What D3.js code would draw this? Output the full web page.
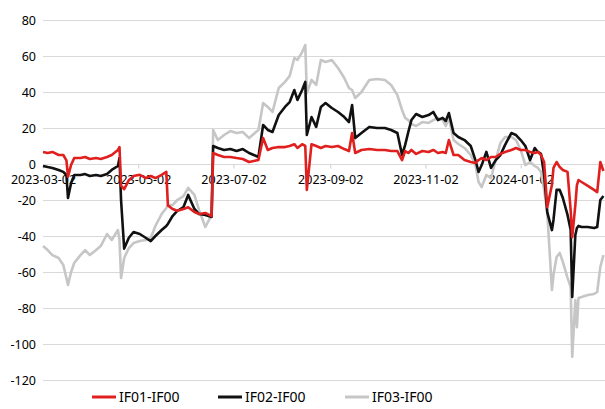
<!DOCTYPE html>
<html>
<head>
<meta charset="utf-8">
<script src="https://cdn.jsdelivr.net/npm/d3@7"></script>
<style>
    body { margin: 0; background: #fff; }
    svg text { font-family: "Noto Sans", "Open Sans", sans-serif; fill: #000; }
    .grid line { stroke: #d9d9d9; stroke-width: 1; }
</style>
</head>
<body>
<svg id="chart" width="605" height="409"></svg>
<script>
// dates shared by all three spreads
var dates = [
    "2023-03-02", "2023-03-05", "2023-03-08", "2023-03-12", "2023-03-15", "2023-03-17", "2023-03-18", "2023-03-20",
    "2023-03-22", "2023-03-26", "2023-03-29", "2023-04-01", "2023-04-05", "2023-04-08", "2023-04-12", "2023-04-15",
    "2023-04-19", "2023-04-20", "2023-04-21", "2023-04-23", "2023-04-26", "2023-04-29", "2023-05-03", "2023-05-07",
    "2023-05-10", "2023-05-13", "2023-05-17", "2023-05-20", "2023-05-21", "2023-05-24", "2023-05-27", "2023-05-31",
    "2023-06-03", "2023-06-07", "2023-06-10", "2023-06-14", "2023-06-18", "2023-06-19", "2023-06-22", "2023-06-26",
    "2023-06-30", "2023-07-04", "2023-07-08", "2023-07-12", "2023-07-15", "2023-07-18", "2023-07-21", "2023-07-24",
    "2023-07-27", "2023-07-31", "2023-08-04", "2023-08-07", "2023-08-10", "2023-08-12", "2023-08-15", "2023-08-17",
    "2023-08-18", "2023-08-21", "2023-08-24", "2023-08-27", "2023-08-30", "2023-09-03", "2023-09-07", "2023-09-11",
    "2023-09-14", "2023-09-16", "2023-09-18", "2023-09-22", "2023-09-27", "2023-10-02", "2023-10-07", "2023-10-11",
    "2023-10-15", "2023-10-18", "2023-10-20", "2023-10-22", "2023-10-24", "2023-10-27", "2023-10-31", "2023-11-04",
    "2023-11-07", "2023-11-10", "2023-11-13", "2023-11-15", "2023-11-17", "2023-11-20", "2023-11-23", "2023-11-27",
    "2023-12-01", "2023-12-04", "2023-12-06", "2023-12-08", "2023-12-11", "2023-12-14", "2023-12-17", "2023-12-20",
    "2023-12-23", "2023-12-27", "2023-12-30", "2024-01-02", "2024-01-05", "2024-01-08", "2024-01-11", "2024-01-13",
    "2024-01-15", "2024-01-17", "2024-01-19", "2024-01-22", "2024-01-23", "2024-01-25", "2024-01-27", "2024-01-29",
    "2024-02-01", "2024-02-03", "2024-02-04", "2024-02-06", "2024-02-07", "2024-02-08", "2024-02-10", "2024-02-14",
    "2024-02-18", "2024-02-20", "2024-02-22", "2024-02-24"
];

var if01 = [
    6.7, 6.1, 6.7, 5, 5, 2, -7, -0.5, 3.3, 3.3, 3.9, 2.8, 3.3, 2.8, 3.9, 5,
    7.8, 9.4, -12, -14, -9, -6.7, -6, -7.8, -6.7, -7.8, -6, -4.4, -23, -25, -26, -25,
    -24, -26.7, -27.8, -27.2, -29, 6.1, 5, 3.9, 3.9, 3.3, 2.8, 1.1, 1.7, 2.2, 14.4, 7.8,
    8.9, 9.4, 9.4, 10, 11, 8.9, 11, 10, -14.4, 11, 10, 8.9, 10, 9.4, 10, 8.3,
    7.2, 17.2, 6.1, 7.8, 8.3, 7.8, 7.8, 7.2, 7.2, 2.2, 7.2, 6.1, 7.8, 5.6, 7.2, 6.7,
    7.8, 6.1, 6.7, 6.1, 13.3, 5, 5, 2.2, 1.1, 0.6, 2.2, 3.3, 2.2, 3.9, 3.9, 5.6,
    6.7, 7.8, 8.9, 7.8, 7.8, 6.7, 6.1, 6.7, 5, 1.1, -24, -11.7, -2.2, 1.1, -1.7, -3.3,
    -4.4, -25.6, -40.6, -22.8, -11.7, -8.9, -10, -12.2, -14.4, -15.6, 1.1, -3.9
];

var if02 = [
    -1.1, -1.7, -2.2, -3.3, -4.4, -6.1, -18.9, -10.6, -6.1, -6.1, -5.6, -6.7, -6.1, -6.7, -5.6, -3.3,
    -1.1, 3.3, -20, -47, -41, -37.8, -38.9, -41.1, -42.8, -40, -36.7, -34.4, -33.3, -28.9, -26.1, -23.9,
    -17.2, -25, -27.8, -28.3, -29.4, 10, 8.9, 7.8, 8.3, 7.2, 8.3, 6.1, 5, 3.9, 21.7, 18.9,
    17.8, 27.2, 31.7, 34.4, 41.1, 35.6, 41.1, 45.6, 16.1, 26.1, 20.6, 31.7, 33.9, 31.1, 28.9, 26.1,
    23.3, 32.8, 14.4, 17.2, 20.6, 20, 20, 18.9, 17.2, 5, 10.6, 17.8, 24.4, 27.8, 26.1, 27.2,
    28.9, 24.4, 25.6, 23.9, 28.3, 17.2, 15, 13.3, 10, 2.2, -4.4, -0.6, 6.7, -2.2, 2.2, 5,
    10.6, 17.2, 16.1, 13.3, 10, 2.2, 8.9, 6.7, 5.6, -6.1, -26.7, -36.7, -31.1, -14.4, -14.4, -18.9,
    -28.3, -36.7, -73.9, -39.4, -35.6, -34.4, -35, -35, -35.6, -35, -20, -17.8
];

var if03 = [
    -45.6, -47.8, -50.6, -52.2, -56.1, -63.3, -67.2, -60, -55, -50.6, -47.8, -50.6, -47.8, -45.6, -38.9, -42.2,
    -36.7, -42, -63.3, -52.2, -46.7, -43.9, -42.8, -42.2, -41.1, -34.4, -27.8, -24.4, -22.8, -22.8, -20, -17.8,
    -13.3, -17.2, -25.6, -35, -28.3, 18.9, 13.3, 16.1, 18.3, 17.2, 17.8, 14.4, 16.7, 18.9, 33.9, 31.7,
    28.9, 42.2, 45.6, 48.9, 58.9, 57.8, 62.2, 66.1, 39.4, 46.7, 43.9, 57.8, 56.7, 57.8, 53.3, 47.8,
    42.2, 41.1, 36.7, 40, 46.7, 47.2, 46.7, 43.9, 38.3, 30, 25.6, 24.4, 22.2, 21.1, 23.3, 22.8,
    24.4, 25.6, 24.4, 21.1, 25.6, 13.3, 11.1, 8.9, 5, -0.6, -10, -12.8, -6.1, -7.8, 2.2, 11.7,
    15, 15, 13.3, 7.8, -0.6, 1.1, -1.1, -2.2, -4.4, -14.4, -26.7, -70, -61.7, -51.7, -49.4, -54.4,
    -63.3, -68.3, -107, -75.6, -90.6, -74.4, -73.9, -72.8, -72.2, -71.1, -57.2, -50.6
];

var seriesNames = ["IF01-IF00", "IF02-IF00", "IF03-IF00"];
var seriesColors = ["#e0201f", "#111111", "#c6c6c6"];
var xTicks = ["2023-03-02", "2023-05-02", "2023-07-02", "2023-09-02", "2023-11-02", "2024-01-02"];
var yTicks = [80, 60, 40, 20, 0, -20, -40, -60, -80, -100, -120];

var parse = d3.timeParse("%Y-%m-%d");
var svg = d3.select("#chart");

var x = d3.scaleTime()
    .domain([parse("2023-03-02"), parse("2024-02-25")])
    .range([43, 605]);

var y = d3.scaleLinear()
    .domain([-120, 80])
    .range([380, 20]);

// horizontal gridlines
svg.append("g")
    .attr("class", "grid")
    .selectAll("line")
    .data(yTicks)
    .enter()
    .append("line")
    .attr("x1", 43)
    .attr("x2", 605)
    .attr("y1", d => Math.round(y(d)) + 0.5)
    .attr("y2", d => Math.round(y(d)) + 0.5);

// y labels
svg.append("g")
    .selectAll("text")
    .data(yTicks)
    .enter()
    .append("text")
    .attr("x", 36)
    .attr("y", d => y(d))
    .attr("dy", "0.36em")
    .attr("text-anchor", "end")
    .style("font-size", "12.5px")
    .text(d => d);

// date axis sitting on the zero line
var xAxis = d3.axisBottom(x)
    .tickValues(xTicks.map(parse))
    .tickFormat(d3.timeFormat("%Y-%m-%d"))
    .tickSize(4)
    .tickPadding(7);

var axisG = svg.append("g")
    .attr("transform", "translate(0," + (Math.round(y(0)) + 0.5) + ")")
    .call(xAxis);
axisG.select(".domain").remove();
axisG.selectAll(".tick line").attr("stroke", "#d0d0d0");
axisG.selectAll(".tick text")
    .style("font-size", "12.5px")
    .style("font-family", "\"Noto Sans\", sans-serif")
    .attr("fill", "#000");

// lines, gray at the back, red on top
var allSeries = [if01, if02, if03];
var line = d3.line()
    .x((d, i) => x(parse(dates[i])))
    .y(d => y(d));

[2, 1, 0].forEach(function (k) {
    svg.append("path")
        .datum(allSeries[k])
        .attr("fill", "none")
        .attr("stroke", seriesColors[k])
        .attr("stroke-width", 2.6)
        .attr("stroke-linejoin", "round")
        .attr("d", line);
});

// legend
var legendX = [92, 218, 345];
var legend = svg.append("g");
seriesNames.forEach(function (name, k) {
    legend.append("line")
        .attr("x1", legendX[k])
        .attr("x2", legendX[k] + 24)
        .attr("y1", 397)
        .attr("y2", 397)
        .attr("stroke", seriesColors[k])
        .attr("stroke-width", 3);
    legend.append("text")
        .attr("x", legendX[k] + 27)
        .attr("y", 397)
        .attr("dy", "0.36em")
        .style("font-size", "14px")
        .text(name);
});
</script>
</body>
</html>
